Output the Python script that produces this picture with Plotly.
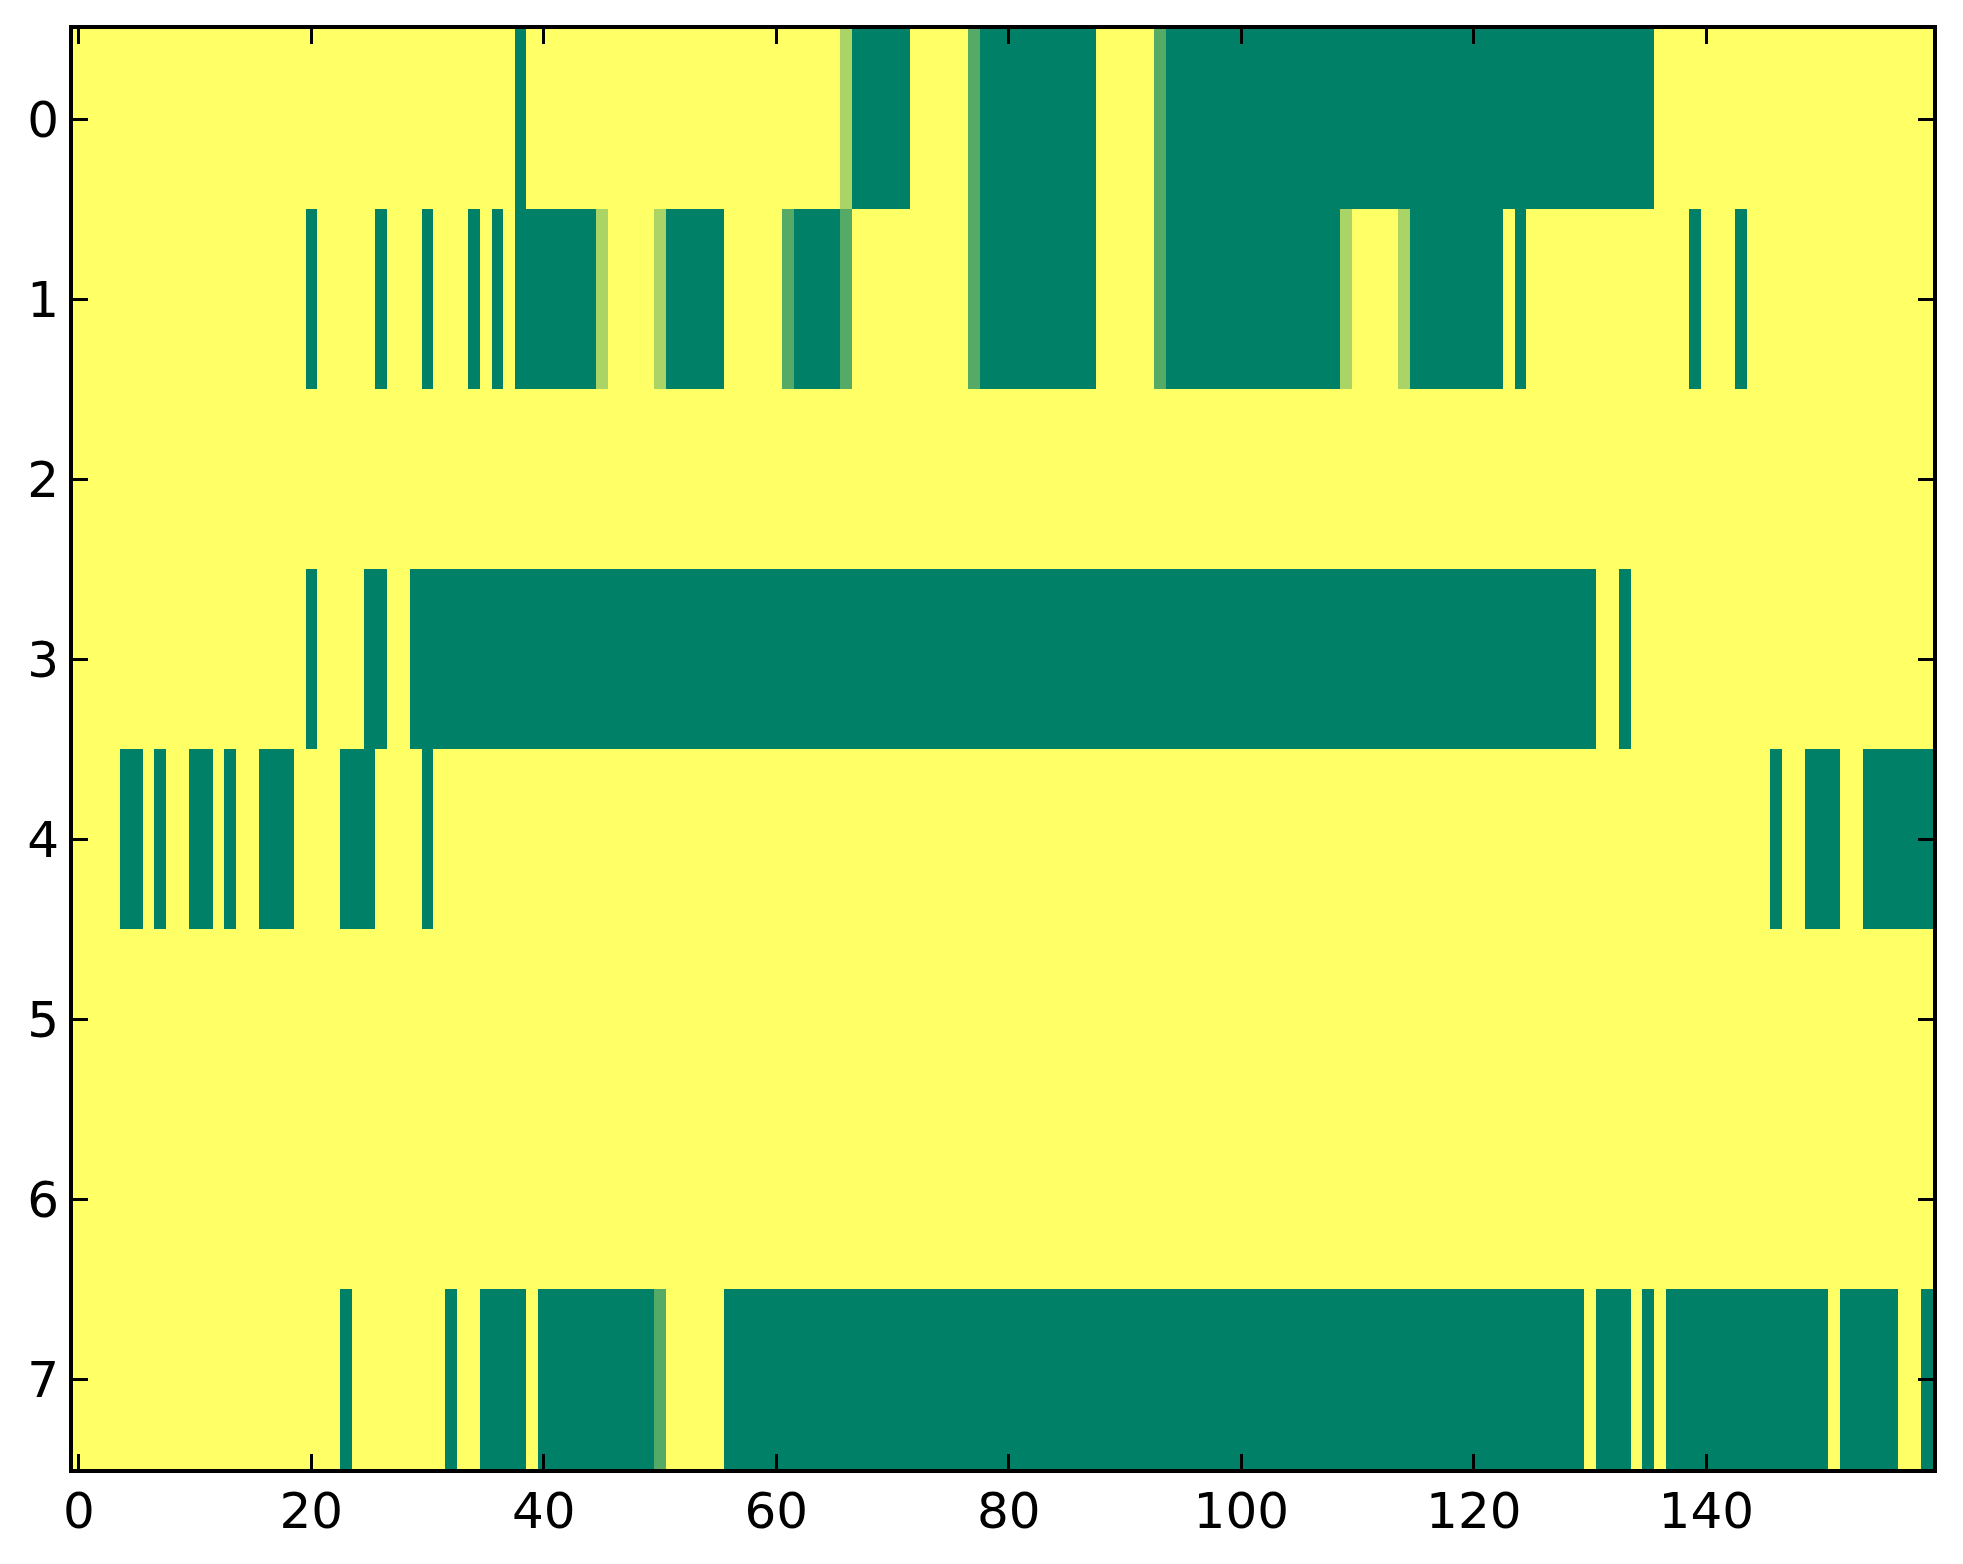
import plotly.graph_objects as go

# columns 0..159, rows 0..7
n_cols = 160
n_rows = 8

# runs of full cells (value 1) per row, as (first col, last col)
row0_runs = [(38, 38), (67, 71), (78, 87), (94, 135)]
row1_runs = [(20, 20), (26, 26), (30, 30), (34, 34), (36, 36), (38, 44), (51, 55),
             (62, 65), (78, 87), (94, 108), (115, 122), (124, 124), (139, 139), (143, 143)]
row2_runs = []
row3_runs = [(20, 20), (25, 26), (29, 130), (133, 133)]
row4_runs = [(4, 5), (7, 7), (10, 11), (13, 13), (16, 18), (23, 25), (30, 30),
             (146, 146), (149, 151), (154, 159)]
row5_runs = []
row6_runs = []
row7_runs = [(23, 23), (32, 32), (35, 38), (40, 49), (56, 129), (131, 133), (135, 135),
             (137, 150), (152, 156), (159, 159)]

# cells with partial values
row0_partial = {66: 1 / 3, 77: 2 / 3, 93: 2 / 3}
row1_partial = {45: 1 / 3, 50: 1 / 3, 61: 2 / 3, 66: 2 / 3, 77: 2 / 3, 93: 2 / 3,
                109: 1 / 3, 114: 1 / 3}
row7_partial = {50: 2 / 3}

x_ticks = [0, 20, 40, 60, 80, 100, 120, 140]
y_ticks = [0, 1, 2, 3, 4, 5, 6, 7]

all_runs = [row0_runs, row1_runs, row2_runs, row3_runs,
            row4_runs, row5_runs, row6_runs, row7_runs]
all_partial = {0: row0_partial, 1: row1_partial, 7: row7_partial}

z = []
for r in range(n_rows):
    row = [0.0] * n_cols
    for a, b in all_runs[r]:
        for c in range(a, b + 1):
            row[c] = 1.0
    for c, v in all_partial.get(r, {}).items():
        row[c] = v
    z.append(row)

# summer_r colormap: yellow for 0, green for 1
fig = go.Figure(go.Heatmap(
    z=z,
    x=list(range(n_cols)),
    y=list(range(n_rows)),
    zmin=0, zmax=1,
    colorscale=[[0, "rgb(255,255,102)"], [1, "rgb(0,128,102)"]],
    showscale=False,
))

axis_style = dict(
    showline=True, linecolor="black", linewidth=4, mirror="allticks",
    ticks="inside", ticklen=15, tickwidth=3, tickcolor="black",
    showgrid=False, zeroline=False,
    tickfont=dict(family="DejaVu Sans", size=50, color="black"),
)

fig.update_xaxes(range=[-0.5, 159.5], tickvals=x_ticks, ticklabelstandoff=-5, **axis_style)
fig.update_yaxes(range=[7.5, -0.5], tickvals=y_ticks, ticklabelstandoff=0, **axis_style)

# page body has an 8px margin, so the figure is 16px smaller and shifted back
fig.update_layout(
    width=1947, height=1548,
    margin=dict(l=65, r=22, t=21, b=87),
    paper_bgcolor="white", plot_bgcolor="white",
)

fig.write_html("out.html")
